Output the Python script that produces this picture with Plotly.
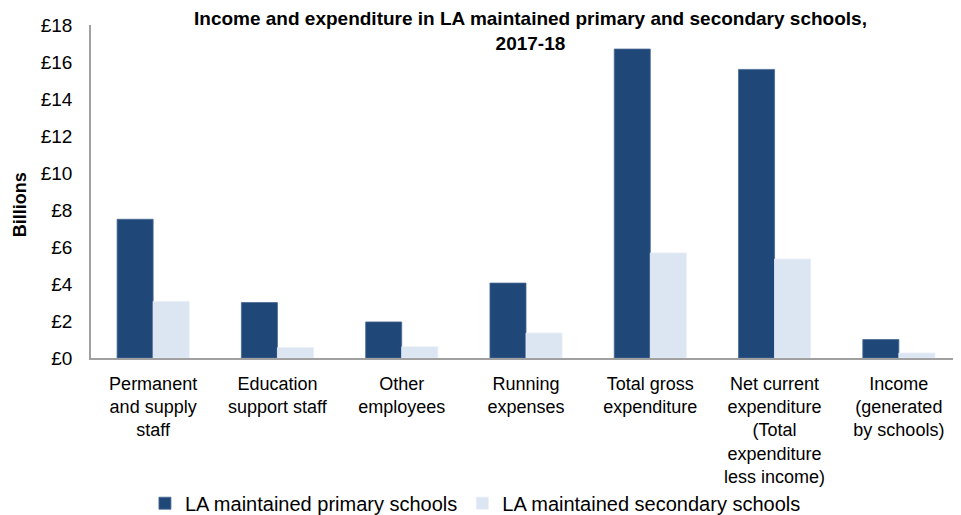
import plotly.graph_objects as go

categories = [
    "Permanent<br>and supply<br>staff",
    "Education<br>support staff",
    "Other<br>employees",
    "Running<br>expenses",
    "Total gross<br>expenditure",
    "Net current<br>expenditure<br>(Total<br>expenditure<br>less income)",
    "Income<br>(generated<br>by schools)",
]
primary = [7.5, 3.0, 1.95, 4.05, 16.7, 15.6, 1.0]
secondary = [3.06, 0.56, 0.61, 1.35, 5.68, 5.35, 0.27]
yticks = [0, 2, 4, 6, 8, 10, 12, 14, 16, 18]
yticktext = ["£" + str(v) for v in yticks]

font = "Liberation Sans, Arial, sans-serif"

fig = go.Figure()
fig.add_trace(go.Bar(
    x=categories, y=primary, name="LA maintained primary schools",
    marker=dict(color="#1F4778", line=dict(color="#4A6A96", width=0.8)),
))
fig.add_trace(go.Bar(
    x=categories, y=secondary, name="LA maintained secondary schools",
    marker=dict(color="#DCE6F2", line=dict(color="#E8EEF7", width=0.8)),
))

fig.update_layout(
    width=953, height=507,
    margin=dict(l=83, r=0, t=17, b=157, autoexpand=False),
    paper_bgcolor="white", plot_bgcolor="white",
    barmode="group", bargap=0.42, bargroupgap=0,
    font=dict(family=font, size=18, color="#000000"),
    legend=dict(
        orientation="h", x=0.062, xanchor="left", y=-0.436, yanchor="middle",
        font=dict(family=font, size=20), traceorder="normal",
        itemwidth=30, bgcolor="rgba(0,0,0,0)",
    ),
    showlegend=True,
    annotations=[
        dict(
            text="<b>Income and expenditure in LA maintained primary and secondary schools,<br>2017-18</b>",
            xref="paper", yref="paper", x=0.505, y=0.9805,
            xanchor="center", yanchor="middle", showarrow=False,
            font=dict(family=font, size=19, color="#000000"),
        ),
        dict(
            text="<b>Billions</b>", textangle=-90,
            xref="paper", yref="paper", x=-0.0816, y=0.459,
            xanchor="center", yanchor="middle", showarrow=False,
            font=dict(family=font, size=18, color="#000000"),
        ),
    ],
)
fig.update_xaxes(
    showline=True, linecolor="#A0A0A0", linewidth=2,
    ticks="", showgrid=False, tickangle=0, automargin=False,
    tickfont=dict(family=font, size=18), ticklabelstandoff=8,
)
fig.update_yaxes(
    range=[0, 18], tickvals=yticks, ticktext=yticktext,
    showline=True, linecolor="#A0A0A0", linewidth=1.5,
    ticks="", showgrid=False, zeroline=False, automargin=False,
    tickfont=dict(family=font, size=19), ticklabelstandoff=13,
)

fig.write_html("out.html")
